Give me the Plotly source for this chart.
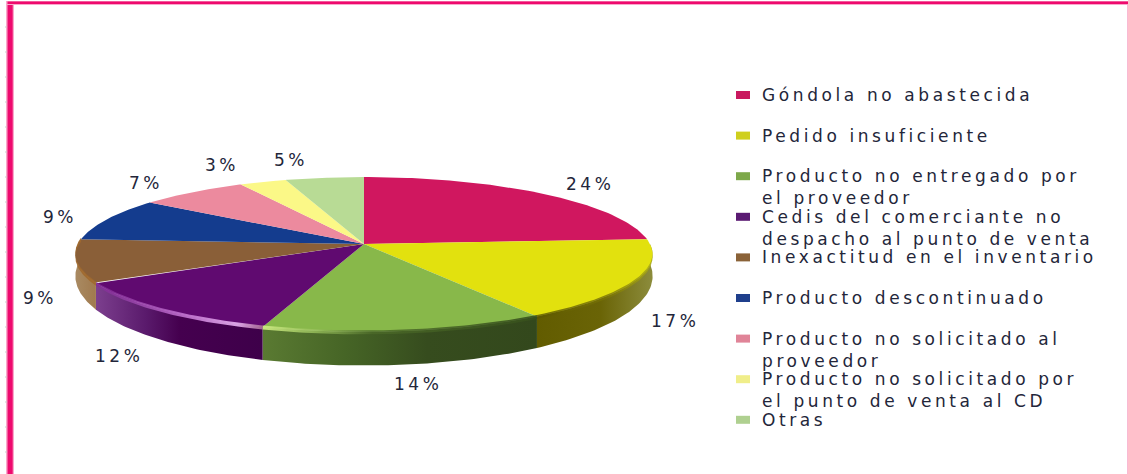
import numpy as np
import plotly.graph_objects as go

CATEGORIES = [
    "Góndola no abastecida",
    "Pedido insuficiente",
    "Producto no entregado por<br>el proveedor",
    "Cedis del comerciante no<br>despacho al punto de venta",
    "Inexactitud en el inventario",
    "Producto descontinuado",
    "Producto no solicitado al<br>proveedor",
    "Producto no solicitado por<br>el punto de venta al CD",
    "Otras",
]
VALUES = [24, 17, 14, 12, 9, 9, 7, 3, 5]

FACE_COLORS = ["#D0175F", "#E2E10E", "#88B84A", "#600A70", "#8A5F38",
               "#143C8E", "#EC8A9E", "#FBF887", "#B8DB95"]
LEGEND_COLORS = ["#C9195F", "#CFCF1E", "#7DA84A", "#5A1A72", "#8A6238",
                 "#1F3F8C", "#E08498", "#F0EE8A", "#AFD090"]

# wall gradient stops left -> right, only for the slices that face the viewer
WALL_GRADIENTS = {
    1: [[0, "#625C00"], [0.55, "#6A6406"], [1, "#8C8C3C"]],
    2: [[0, "#5A7A32"], [0.3, "#466526"], [0.6, "#364C1E"], [1, "#33481C"]],
    3: [[0, "#7C3F8E"], [0.3, "#5A1A6C"], [0.5, "#45004F"], [1, "#3E004A"]],
    4: [[0, "#A98A62"], [1, "#A07A4E"]],
}
RIM_GRADIENTS = {
    1: [[0, "rgba(90,85,0,0.8)"], [0.6, "rgba(120,115,5,0.8)"], [1, "rgba(170,170,20,0.8)"]],
    2: [[0, "rgba(205,235,130,0.95)"], [0.2, "rgba(150,190,90,0.8)"], [0.4, "rgba(75,105,40,0.8)"], [1, "rgba(55,80,28,0.9)"]],
    3: [[0, "rgba(130,40,150,0.7)"], [0.5, "rgba(190,110,205,0.9)"], [0.85, "rgba(225,170,235,0.95)"], [1, "rgba(170,110,150,0.9)"]],
    4: [[0, "rgba(160,105,45,0.9)"], [1, "rgba(160,105,45,0.9)"]],
}

# pie geometry in page pixels (axes run 0..1128 and 474..0)
CX, CY = 364, 244
RX, RY = 286, 76
PERSP = 0.135
DEPTH = 33

TEXT_COLOR = "#23263A"
FONT = "DejaVu Sans"
FRAME = "#EE0A6E"

# label centres for each slice
PCT_POS = [(590, 184), (675, 321), (418, 384), (119, 356), (40, 298),
           (60, 217), (146, 183), (222, 165), (291, 160)]


def spaced(text, px):
    return "<br>".join(
        f'<span style="letter-spacing:{px}px">{line}</span>'
        for line in text.split("<br>")
    )


def project(theta):
    t = np.radians(theta)
    den = 1 + PERSP * np.cos(t)
    return CX + RX * np.sin(t) / den, CY - RY * np.cos(t) / den


def wall_depth(theta):
    return DEPTH * (0.6 + 0.42 * np.abs(np.cos(np.radians(theta))))


def band(theta, top, bottom):
    x, y = project(theta)
    xs = np.concatenate([x, x[::-1]])
    ys = np.concatenate([y + top, (y + bottom)[::-1]])
    return xs, ys


def poly(xs, ys, **kw):
    return go.Scatter(x=xs, y=ys, mode="lines", fill="toself", line=dict(width=0),
                      hoverinfo="skip", showlegend=False, **kw)


def gradient(stops):
    return dict(type="horizontal", colorscale=stops)


cum = np.cumsum([0] + VALUES) / sum(VALUES) * 360
fig = go.Figure()

# side walls, then the top faces, then the lit rim
for i, stops in WALL_GRADIENTS.items():
    theta = np.linspace(max(cum[i], 90), cum[i + 1], 60)
    x, y = project(theta)
    d = wall_depth(theta)
    xs = np.concatenate([x, x[::-1]])
    ys = np.concatenate([y, (y + d)[::-1]])
    fig.add_trace(poly(xs, ys, fillgradient=gradient(stops)))

for i, color in enumerate(FACE_COLORS):
    theta = np.linspace(cum[i], cum[i + 1], 80)
    x, y = project(theta)
    fig.add_trace(poly(np.concatenate([[CX], x, [CX]]),
                       np.concatenate([[CY], y, [CY]]), fillcolor=color))

for i, stops in RIM_GRADIENTS.items():
    theta = np.linspace(max(cum[i], 100), cum[i + 1], 60)
    xs, ys = band(theta, -1.5, 2.5)
    fig.add_trace(poly(xs, ys, fillgradient=gradient(stops)))

annotations = []
for value, (px, py) in zip(VALUES, PCT_POS):
    annotations.append(dict(x=px, y=py, text=spaced(f"{value}%", 3.5), showarrow=False,
                            xref="x", yref="y", font=dict(family=FONT, size=17, color=TEXT_COLOR)))

shapes = []
for i, (name, color) in enumerate(zip(CATEGORIES, LEGEND_COLORS)):
    ym = 95 + 40.6 * i
    shapes.append(dict(type="rect", x0=736, x1=750, y0=ym - 4, y1=ym + 4,
                       fillcolor=color, line=dict(width=0), xref="x", yref="y"))
    annotations.append(dict(x=760, y=ym - 12, text=spaced(name, 3.6), showarrow=False,
                            xanchor="left", yanchor="top", align="left", xref="x", yref="y",
                            font=dict(family=FONT, size=17, color=TEXT_COLOR)))

# pink frame and the faint ticks beside it
for x0, x1, y0, y1, col in [
    (6, 14, 1, 474, "#F9A8CB"),
    (7.5, 12.7, 2, 474, FRAME),
    (7, 1128, 1, 5, "#F9A8CB"),
    (7.5, 1128, 1.5, 4, FRAME),
    (1127, 1128, 5, 474, "#F9BAD3"),
]:
    shapes.append(dict(type="rect", x0=x0, x1=x1, y0=y0, y1=y1, fillcolor=col,
                       line=dict(width=0), xref="x", yref="y", layer="above"))
for k in range(18):
    shapes.append(dict(type="line", x0=5, x1=7, y0=27 + 25 * k, y1=27 + 25 * k,
                       line=dict(color="#CCCCCC", width=1), xref="x", yref="y"))

fig.update_layout(
    width=1128, height=474,
    margin=dict(l=0, r=0, t=0, b=0),
    paper_bgcolor="white", plot_bgcolor="white",
    xaxis=dict(range=[0, 1128], visible=False, fixedrange=True),
    yaxis=dict(range=[474, 0], visible=False, fixedrange=True),
    showlegend=False,
    annotations=annotations,
    shapes=shapes,
)
# the page's default 8px body margin would push the figure off the picture
fig.write_html("out.html", config={"displayModeBar": False},
               post_script="document.body.style.margin='0';")
